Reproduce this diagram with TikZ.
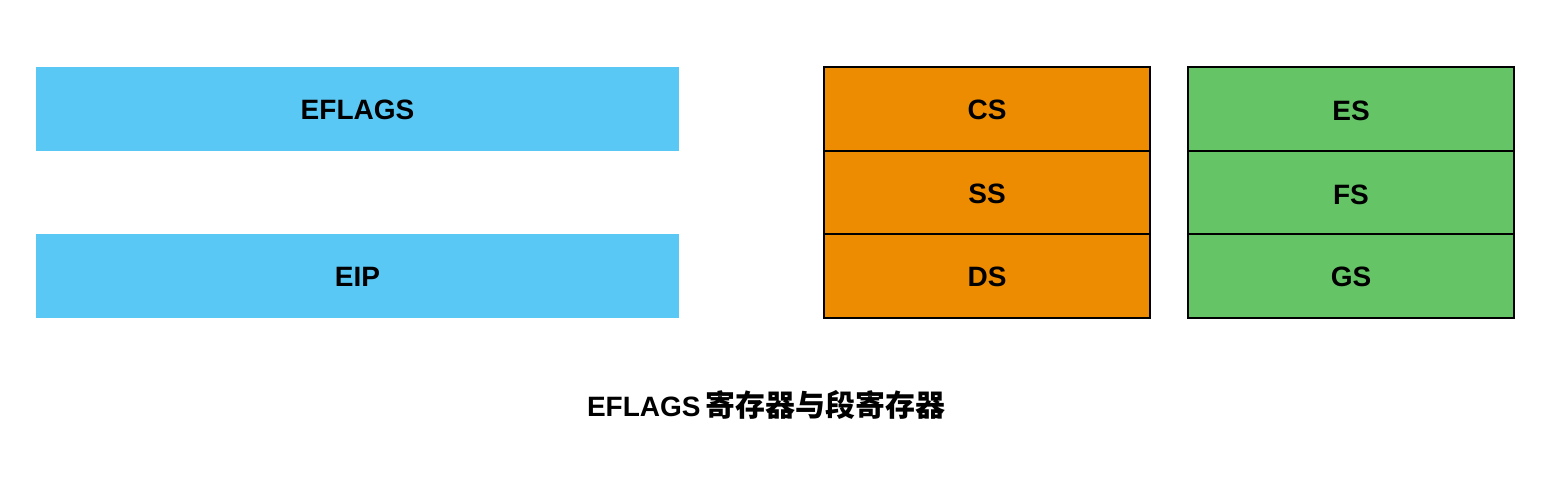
\documentclass[tikz,border=0pt]{standalone}
\usepackage{fontspec}
\setmainfont{Liberation Sans}
\newfontfamily\cjk{Noto Sans CJK SC}[Scale=1.07]
\definecolor{regblue}{HTML}{5AC8F5}
\definecolor{regorange}{HTML}{ED8C00}
\definecolor{reggreen}{HTML}{64C466}
\begin{document}
\begin{tikzpicture}[x=0.5pt,y=-0.5pt,
  lbl/.style={font=\fontsize{14}{16}\selectfont\bfseries},
  bluebox/.style={fill=regblue,draw=none},
  segbox/.style={draw=black,line width=1pt}]
\useasboundingbox (0,0) rectangle (1568,490);
% blue registers
\fill[bluebox] (36,67) rectangle (679,151);
\node[lbl] (eflags) at (357.5,110) {EFLAGS};
\fill[bluebox] (36,234) rectangle (679,318);
\node[lbl] (eip) at (357.5,277) {EIP};
% orange segment registers
\foreach \y in {67,151,234}{
  \filldraw[segbox,fill=regorange] (824,\y) rectangle (1150,\y+84);
}
\node[lbl] (cs) at (987,110) {CS};
\node[lbl] (ss) at (987,194) {SS};
\node[lbl] (ds) at (987,277) {DS};
% green segment registers
\foreach \y in {67,151,234}{
  \filldraw[segbox,fill=reggreen] (1188,\y) rectangle (1514,\y+84);
}
\node[lbl] (es) at (1351,111) {ES};
\node[lbl] (fs) at (1351,195) {FS};
\node[lbl] (gs) at (1351,277) {GS};
% title
\node[lbl] (title) at (766,405) {EFLAGS\,{\cjk\bfseries 寄存器与段寄存器}};
\end{tikzpicture}
\end{document}
